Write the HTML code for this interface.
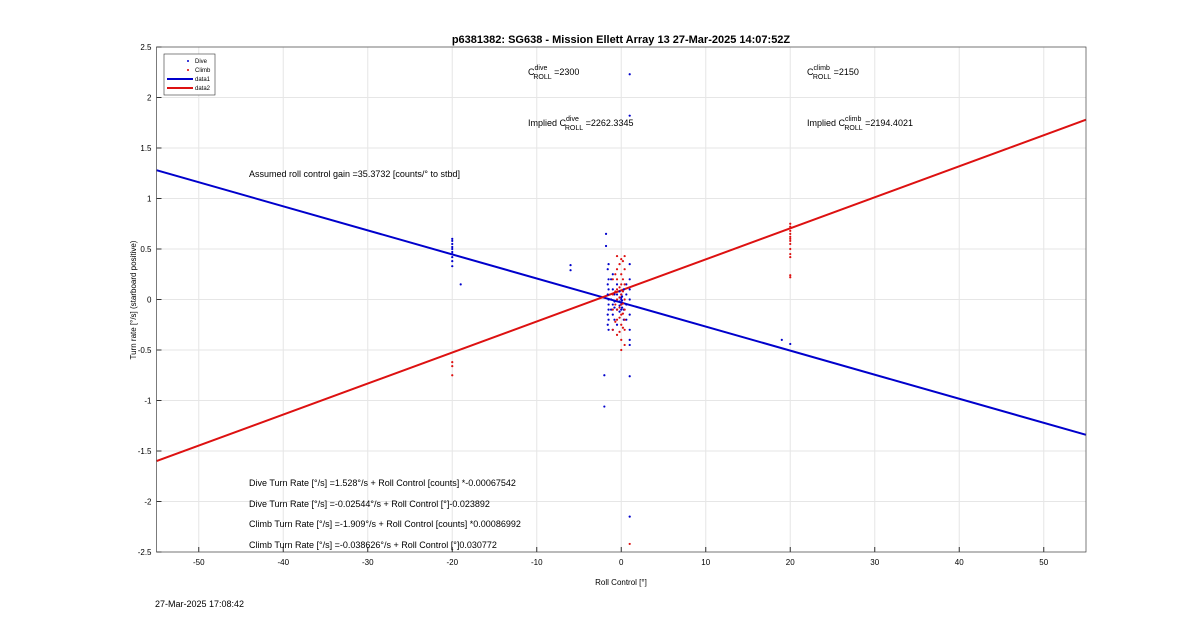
<!DOCTYPE html>
<html><head><meta charset="utf-8"><style>
body{margin:0;background:#fff;font-family:"Liberation Sans",sans-serif}
svg text{font-family:"Liberation Sans",sans-serif}
</style></head><body>
<svg id="c" width="1200" height="622">
<rect x="0" y="0" width="1200" height="622" fill="#fff"/>
<g id="grid"></g>
<g id="lines"></g>
<g id="pts"></g>
<g id="axes"></g>
<text x="621" y="43" font-size="11" font-weight="bold" text-anchor="middle">p6381382: SG638 - Mission Ellett Array 13 27-Mar-2025 14:07:52Z</text>
<text x="621" y="585" font-size="8" text-anchor="middle">Roll Control [°]</text>
<text transform="translate(136,300) rotate(-90)" font-size="8" text-anchor="middle">Turn rate [°/s] (starboard positive)</text>
<g font-size="9">
<text x="528" y="75">C<tspan font-size="7" dy="-5">dive</tspan><tspan font-size="7" dx="-14" dy="9">ROLL</tspan><tspan dy="-4"> =2300</tspan></text>
<text x="807" y="75">C<tspan font-size="7" dy="-5">climb</tspan><tspan font-size="7" dx="-17" dy="9">ROLL</tspan><tspan dy="-4"> =2150</tspan></text>
<text x="528" y="126">Implied C<tspan font-size="7" dy="-5">dive</tspan><tspan font-size="7" dx="-14" dy="9">ROLL</tspan><tspan dy="-4"> =2262.3345</tspan></text>
<text x="807" y="126">Implied C<tspan font-size="7" dy="-5">climb</tspan><tspan font-size="7" dx="-17" dy="9">ROLL</tspan><tspan dy="-4"> =2194.4021</tspan></text>
<text x="249" y="177">Assumed roll control gain =35.3732 [counts/° to stbd]</text>
<text x="249" y="486">Dive Turn Rate [°/s] =1.528°/s + Roll Control [counts] *-0.00067542</text>
<text x="249" y="507">Dive Turn Rate [°/s] =-0.02544°/s + Roll Control [°]-0.023892</text>
<text x="249" y="527">Climb Turn Rate [°/s] =-1.909°/s + Roll Control [counts] *0.00086992</text>
<text x="249" y="548">Climb Turn Rate [°/s] =-0.038626°/s + Roll Control [°]0.030772</text>
</g>
<g>
<rect x="164" y="54" width="51" height="41" fill="#fff" stroke="#333" stroke-width="0.6"/>
<circle cx="188" cy="61" r="1" fill="#00c"/><text x="195" y="63" font-size="6">Dive</text>
<circle cx="188" cy="70" r="1" fill="#d00"/><text x="195" y="72" font-size="6">Climb</text>
<line x1="167" y1="79" x2="193" y2="79" stroke="#0000cc" stroke-width="2"/><text x="195" y="81" font-size="6">data1</text>
<line x1="167" y1="88" x2="193" y2="88" stroke="#dd1111" stroke-width="2"/><text x="195" y="90" font-size="6">data2</text>
</g>
<text x="155" y="607" font-size="9">27-Mar-2025 17:08:42</text>
</svg>
<script>
const xTicks=[-50,-40,-30,-20,-10,0,10,20,30,40,50];
const yTicks=[-2.5,-2,-1.5,-1,-0.5,0,0.5,1,1.5,2,2.5];
const diveFit=[1.28,-1.34];   // y at x=-55 and x=55
const climbFit=[-1.6,1.78];
const diveX=[-20,-20,-20,-20,-20,-20,-20,-20,-20,-20,-19,-6,-6,-1.8,-1.8,-2,-2,1,1,1,1,19,20,
 -1.5,-1.5,-1.5,-1.5,-1.5,-1.5,-1.5,-1.5,-1,-1,-1,-1,-1,-0.5,-0.5,-0.5,-0.5,0,0,0,0,0,0,0.3,0.3,0.3,1,1,1,1,1,1,1,1,
 -1.6,-1.6,-1.6,-1.6,-1.6,-1.2,-1.2,-1.2,-0.8,-0.8,-0.8,-0.8,-0.2,-0.2,-0.2,-0.2,-0.2,0.1,0.1,0.1,0.1,0.6,0.6,0.6,0.6];
const diveY=[0.6,0.58,0.55,0.52,0.5,0.47,0.45,0.42,0.38,0.33,0.15,0.34,0.29,0.65,0.53,-0.75,-1.06,-0.76,-2.15,2.23,1.82,-0.4,-0.44,
 0.35,0.2,0.1,0,-0.1,-0.2,-0.3,-0.05,0.25,0.1,-0.05,-0.15,-0.3,0.15,0.05,-0.1,-0.25,0.05,0.02,0,-0.03,-0.05,-0.1,0.1,-0.1,-0.2,0.35,0.1,0,-0.15,-0.3,-0.4,0.2,-0.45,
 0.3,0.15,0.05,-0.15,-0.25,0.2,0,-0.1,0.05,-0.02,-0.08,-0.2,0.08,0.02,-0.02,-0.06,-0.12,0.03,-0.01,-0.04,-0.08,0.15,0.05,-0.05,-0.2];
const climbX=[-20,-20,-20,20,20,20,20,20,20,20,20,20,20,20,20,20,1,
 -0.5,-0.5,-0.5,-0.5,-0.5,-0.5,-0.5,-0.5,0,0,0,0,0,0,0,0,0,0.4,0.4,0.4,0.4,0.4,0.4,0.4,0.4,-1,-1,-1,-1,
 -0.2,-0.2,-0.2,-0.2,-0.2,-0.2,0.2,0.2,0.2,0.2,0.2,0.2,-0.7,-0.7,-0.7,-0.7];
const climbY=[-0.62,-0.66,-0.75,0.75,0.72,0.68,0.65,0.62,0.6,0.58,0.55,0.5,0.45,0.42,0.24,0.22,-2.42,
 0.43,0.3,0.2,0.1,0,-0.1,-0.2,-0.35,0.4,0.25,0.15,0.05,-0.05,-0.15,-0.25,-0.4,-0.5,0.43,0.3,0.15,0,-0.1,-0.2,-0.3,-0.45,0.2,0.05,-0.1,-0.3,
 0.35,0.12,0.02,-0.08,-0.18,-0.32,0.38,0.2,0.08,-0.04,-0.14,-0.28,0.25,0.08,-0.05,-0.22];
const X0=156.5,X1=1086,Y0=552,Y1=47,xmin=-55,xmax=55,ymin=-2.5,ymax=2.5;
const sx=v=>X0+(v-xmin)/(xmax-xmin)*(X1-X0);
const sy=v=>Y0-(v-ymin)/(ymax-ymin)*(Y0-Y1);
const NS="http://www.w3.org/2000/svg";
function mk(p,tag,a){const e=document.createElementNS(NS,tag);for(const k in a)e.setAttribute(k,a[k]);document.getElementById(p).appendChild(e);return e;}
xTicks.forEach(t=>{
 const g=mk('grid','line',{x1:sx(t),x2:sx(t),y1:Y1,y2:Y0,stroke:'#e6e6e6','stroke-width':1});
 
 
 const l=mk('axes','text',{x:sx(t),y:Y0+13,'font-size':8,'text-anchor':'middle'});l.textContent=t;
 
 
 mk('axes','line',{x1:sx(t),x2:sx(t),y1:Y0,y2:Y0-5,stroke:'#333'});
});
yTicks.forEach(t=>{
 const g=mk('grid','line',{x1:X0,x2:X1,y1:sy(t),y2:sy(t),stroke:'#e6e6e6','stroke-width':1});
 
 
 const l=mk('axes','text',{x:X0-5,y:sy(t)+3,'font-size':8,'text-anchor':'end'});l.textContent=t;
 
 
 mk('axes','line',{x1:X0,x2:X0+5,y1:sy(t),y2:sy(t),stroke:'#333'});
});
const box=mk('axes','rect',{x:X0,y:Y1,width:X1-X0,height:Y0-Y1,fill:'none',stroke:'#444','stroke-width':0.7});


const d1=mk('lines','line',{x1:sx(xmin),y1:sy(diveFit[0]),x2:sx(xmax),y2:sy(diveFit[1]),stroke:'#0000cc','stroke-width':2});


const d2=mk('lines','line',{x1:sx(xmin),y1:sy(climbFit[0]),x2:sx(xmax),y2:sy(climbFit[1]),stroke:'#dd1111','stroke-width':2});


diveX.forEach((x,i)=>{const c=mk('pts','circle',{cx:sx(x),cy:sy(diveY[i]),r:1.1,fill:'#0000cc'});
 
 });
climbX.forEach((x,i)=>{const c=mk('pts','circle',{cx:sx(x),cy:sy(climbY[i]),r:1.1,fill:'#dd1111'});
 
 });
</script>
</body></html>
